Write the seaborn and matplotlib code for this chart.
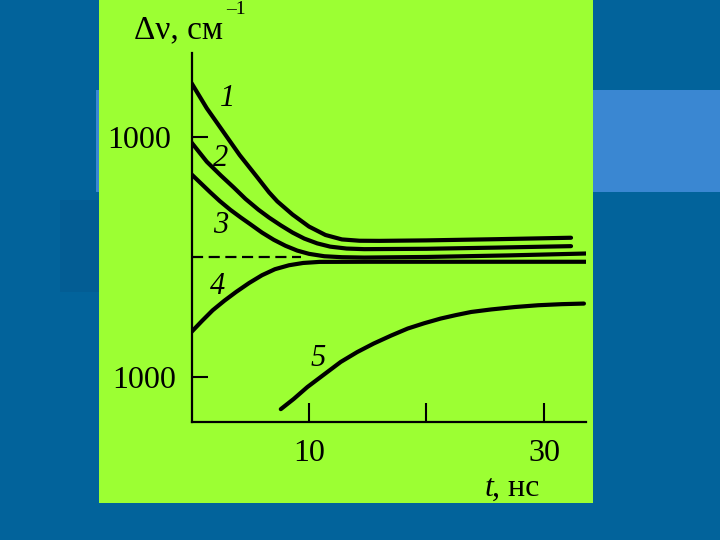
import matplotlib
matplotlib.use("Agg")
import matplotlib.pyplot as plt
import matplotlib.patches as mpatches
import matplotlib.transforms as mtransforms
import seaborn as sns
import pandas as pd

# ---- data ----
t1 = [0, 1.3, 2.7, 4.1, 5.6, 6.6, 7.3, 8.6, 10.0, 11.4, 12.8, 14.3, 16, 20, 26, 32.3]
y1 = [1450, 1240, 1045, 850, 665, 540, 465, 355, 255, 185, 148, 137, 136, 140, 150, 162]
t2 = [0, 1.3, 2.5, 3.6, 4.6, 5.7, 6.6, 7.6, 8.6, 9.6, 10.7, 11.8, 13.2, 14.7, 20, 26, 32.3]
y2 = [955, 795, 680, 580, 485, 395, 330, 265, 205, 155, 115, 88, 72, 67, 70, 80, 92]
t3 = [0, 0.8, 1.6, 2.4, 3.3, 4.2, 5.0, 6.0, 7.0, 8.0, 9.0, 10.0, 11.3, 12.8, 14.7, 20, 27, 33.7]
y3 = [690, 615, 540, 468, 395, 330, 275, 205, 145, 95, 55, 28, 8, 0, -3, 2, 15, 31]
t4 = [0, 0.9, 1.8, 2.8, 3.8, 4.9, 6.0, 7.1, 8.3, 9.5, 10.9, 15, 25, 33.7]
y4 = [-622, -530, -442, -362, -289, -215, -150, -100, -67, -48, -39, -38, -38, -38]
t5 = [7.6, 8.7, 9.86, 11.3, 12.7, 14.1, 15.5, 17.0, 18.4, 19.8, 21.2, 22.5, 23.8,
      25.5, 27.5, 29.5, 31.5, 33.4]
y5 = [-1265, -1180, -1081, -975, -872, -790, -719, -652, -594, -550, -511, -482, -456,
      -435, -415, -400, -391, -386]
dash_t = [0, 9.3]
dash_y = [0, 0]

curve_names = ["1", "2", "3", "4", "5"]
label_t = [3.05, 2.5, 2.5, 2.2, 10.8]
label_y = [1322, 823, 267, -247, -845]

xticks = [10, 20, 30]
xticklabels = ["10", "", "30"]
yticks = [1000, -1000]
yticklabels = ["1000", "1000"]

rows = []
for name, ts, ys in zip(curve_names, [t1, t2, t3, t4, t5], [y1, y2, y3, y4, y5]):
    for t, y in zip(ts, ys):
        rows.append({"t": t, "dnu": y, "curve": name})
df = pd.DataFrame(rows)
df_dash = pd.DataFrame({"t": dash_t, "dnu": dash_y})

# ---- figure ----
sns.set_theme(style="white")
plt.rcParams["font.family"] = ["Liberation Serif", "DejaVu Serif"]

W, H = 720, 540
fig = plt.figure(figsize=(7.2, 5.4), dpi=100)
fig.patch.set_facecolor("#02639B")

def px_rect(x0, y0, x1, y1, color, z):
    r = mpatches.Rectangle((x0 / W, 1 - y1 / H), (x1 - x0) / W, (y1 - y0) / H,
                           transform=fig.transFigure, facecolor=color,
                           edgecolor="none", zorder=z)
    fig.patches.append(r)

px_rect(96, 90, 720, 192, "#3A87D2", 0)
px_rect(60, 200, 99, 292, "#035D94", 0)
px_rect(99, 0, 593, 503, "#9CFF33", 1)

ax = fig.add_axes([191.5 / W, 1 - 422 / H, (586.3 - 191.5) / W, (422 - 53) / H])
ax.set_facecolor("none")
ax.set_zorder(2)

sns.lineplot(data=df, x="t", y="dnu", hue="curve", units="curve", estimator=None,
             sort=False, palette=["black"] * 5, linewidth=3.0, legend=False, ax=ax)
sns.lineplot(data=df_dash, x="t", y="dnu", color="black", linewidth=1.6,
             linestyle=(0, (5, 2.5)), ax=ax)
for line in ax.get_lines():
    line.set_solid_joinstyle("round")

ax.set_xlim(0, 33.6)
ax.set_ylim(-1372, 1700)
for s in ["top", "right"]:
    ax.spines[s].set_visible(False)
for s in ["left", "bottom"]:
    ax.spines[s].set_color("black")
    ax.spines[s].set_linewidth(1.6)

ax.set_xticks(xticks)
ax.set_xticklabels(xticklabels)
ax.set_yticks(yticks)
ax.set_yticklabels(yticklabels)
ax.tick_params(axis="x", direction="in", length=14, width=1.5, pad=12,
               labelsize=23, colors="black", bottom=True)
ax.tick_params(axis="y", direction="in", length=11.5, width=1.5, pad=15,
               labelsize=23, colors="black", left=True)
ax.set_xlabel("")
ax.set_ylabel("")
# lower "1000" sits a little further right in the reference
lbl = ax.get_yticklabels()[1]
lbl.set_transform(lbl.get_transform() +
                  mtransforms.ScaledTranslation(5 / 100, 0, fig.dpi_scale_trans))

for name, lt, ly in zip(curve_names, label_t, label_y):
    ax.text(lt, ly, name, fontsize=22, style="italic", ha="center", va="center",
            color="black")

# axis titles
fig.text(134 / W, 1 - 30 / H, "Δν, см", fontsize=24, ha="left", va="center",
         color="black")
fig.text(236 / W, 1 - 10 / H, "–1", fontsize=14, ha="center", va="center",
         color="black")
fig.text(493 / W, 1 - 488 / H, "t", fontsize=23, style="italic", ha="right",
         va="center", color="black")
fig.text(492 / W, 1 - 488 / H, ", нс", fontsize=23, ha="left", va="center",
         color="black")

fig.savefig("out.png", dpi=100, facecolor=fig.get_facecolor())
